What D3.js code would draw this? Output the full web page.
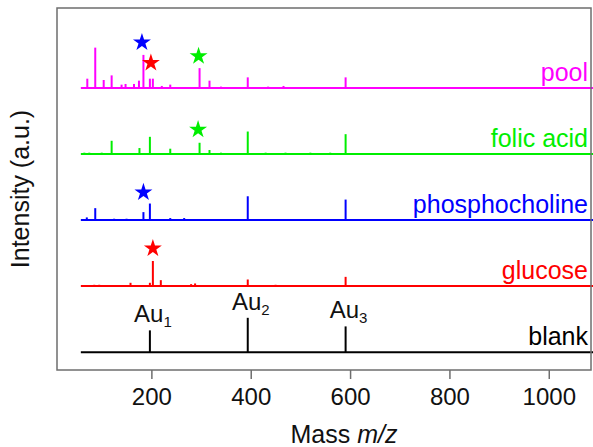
<!DOCTYPE html>
<html>
<head>
<meta charset="utf-8">
<script src="https://cdn.jsdelivr.net/npm/d3@7"></script>
<style>
  body { margin: 0; background: #fff; }
  text { font-family: "Liberation Sans", Arial, sans-serif; }
</style>
</head>
<body>
<div id="chart"></div>
<script>
// series, bottom to top
const seriesNames = ["blank", "glucose", "phosphocholine", "folic acid", "pool"];
const seriesColors = ["#000000", "#ff0000", "#0000ff", "#00ee00", "#ff00ff"];
const seriesOffsets = [0, 100, 200, 300, 400];

// peaks: [m/z, intensity a.u.]
const blankPeaks = [[197, 33], [394, 52], [591, 39]];
const glucosePeaks = [[85, 2], [95, 2], [158, 5], [197, 5], [203, 38], [219, 9], [280, 3], [288, 4],
  [394, 10], [450, 2], [591, 14]];
const phosphocholinePeaks = [[70, 4], [87, 18], [125, 2], [150, 2], [184, 12], [197, 25], [238, 3],
  [266, 3], [394, 36], [591, 31]];
const folicPeaks = [[65, 2], [75, 2], [100, 2], [120, 20], [176, 9], [197, 26], [238, 8], [297, 17],
  [317, 6], [340, 2], [394, 34], [430, 2], [470, 2], [520, 2], [560, 2], [591, 30]];
const poolPeaks = [[71, 14], [87, 61], [104, 12], [120, 19], [140, 5], [148, 6], [165, 6], [175, 11],
  [184, 50], [197, 14], [203, 14], [221, 3], [238, 5], [297, 30], [317, 11], [340, 2], [394, 16],
  [435, 2], [466, 3], [591, 16]];
const allPeaks = [blankPeaks, glucosePeaks, phosphocholinePeaks, folicPeaks, poolPeaks];

// stars: [series index, m/z, height a.u., colour]
const stars = [
  [4, 181, 69, "#0000ff"], [4, 199, 38, "#ff0000"], [4, 295, 48, "#00ee00"],
  [3, 294, 37, "#00ee00"], [2, 184, 42, "#0000ff"], [1, 203, 57, "#ff0000"]
];

// gold cluster labels on the blank trace
const auLabels = [[197, "1"], [394, "2"], [591, "3"]];

const mzStart = 58, mzEnd = 1090;
const xTicks = [200, 400, 600, 800, 1000];

const width = 593, height = 447;
const frame = { left: 57, right: 591, top: 8, bottom: 370 };

const svg = d3.select("#chart").append("svg")
  .attr("width", width).attr("height", height);

const x = d3.scaleLinear().domain([10, 1085]).range([frame.left, frame.right]);
const y = d3.scaleLinear().domain([-27, 521]).range([frame.bottom, frame.top]);

// spectra
seriesNames.forEach((name, i) => {
  const off = seriesOffsets[i];
  const col = seriesColors[i];
  const g = svg.append("g");

  g.append("line")
    .attr("x1", x(mzStart)).attr("x2", x(mzEnd))
    .attr("y1", y(off)).attr("y2", y(off))
    .attr("stroke", col).attr("stroke-width", 2);

  g.selectAll(".peak")
    .data(allPeaks[i])
    .enter().append("line")
    .attr("x1", d => x(d[0])).attr("x2", d => x(d[0]))
    .attr("y1", y(off)).attr("y2", d => y(off + d[1]))
    .attr("stroke", col).attr("stroke-width", 2);

  g.append("text")
    .attr("x", frame.right - 3).attr("y", y(off) - 7)
    .attr("text-anchor", "end")
    .attr("font-size", 25)
    .attr("fill", col)
    .text(name);
});

// stars
const star = d3.symbol().type(d3.symbolStar).size(100);
svg.selectAll(".star")
  .data(stars)
  .enter().append("path")
  .attr("d", star)
  .attr("transform", d => `translate(${x(d[1])},${y(seriesOffsets[d[0]] + d[2])})`)
  .attr("fill", d => d[3]);

// Au labels
const auText = svg.selectAll(".au")
  .data(auLabels)
  .enter().append("text")
  .attr("x", d => x(d[0]) + 3)
  .attr("y", d => {
    const p = blankPeaks.find(b => b[0] === d[0]);
    return y(p[1]) - 8;
  })
  .attr("text-anchor", "middle")
  .attr("font-size", 24)
  .attr("fill", "#111");
auText.append("tspan").text("Au");
auText.append("tspan").attr("font-size", 15).attr("dy", 5).text(d => d[1]);

// frame
svg.append("rect")
  .attr("x", frame.left).attr("y", frame.top)
  .attr("width", frame.right - frame.left).attr("height", frame.bottom - frame.top)
  .attr("fill", "none").attr("stroke", "#6e6e6e").attr("stroke-width", 1.5);

// x axis
const xAxis = svg.append("g")
  .attr("transform", `translate(0,${frame.bottom})`)
  .call(d3.axisBottom(x).tickValues(xTicks).tickFormat(d3.format("d")).tickSize(9).tickPadding(9));
xAxis.select(".domain").remove();
xAxis.selectAll(".tick line").attr("stroke", "#6e6e6e").attr("stroke-width", 1.5);
xAxis.selectAll(".tick text")
  .attr("font-size", 24)
  .attr("font-family", "'Liberation Sans', Arial, sans-serif")
  .attr("fill", "#111");

// axis titles
const xTitle = svg.append("text")
  .attr("x", 344).attr("y", 443)
  .attr("text-anchor", "middle")
  .attr("font-size", 25)
  .attr("fill", "#111");
xTitle.append("tspan").text("Mass ");
xTitle.append("tspan").attr("font-style", "italic").text("m/z");

svg.append("text")
  .attr("transform", `translate(29,${(frame.top + frame.bottom) / 2}) rotate(-90)`)
  .attr("text-anchor", "middle")
  .attr("font-size", 25)
  .attr("fill", "#111")
  .text("Intensity (a.u.)");
</script>
</body>
</html>
